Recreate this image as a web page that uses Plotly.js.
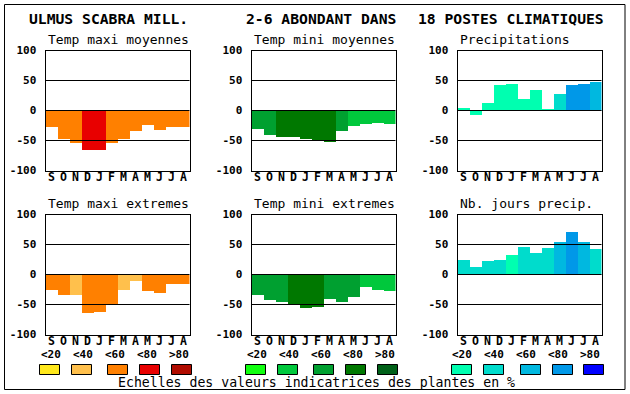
<!DOCTYPE html>
<html>
<head>
<meta charset="utf-8">
<script src="https://cdn.plot.ly/plotly-3.0.1.min.js"></script>
<style>
html,body{margin:0;padding:0;background:#fff;}
#chart{width:630px;height:394px;}
</style>
</head>
<body>
<div id="chart"></div>
<script>
// ---- data ----
const months = ['S','O','N','D','J','F','M','A','M','J','J','A'];
const yTickVals = [-100, -50, 0, 50, 100];
const yTickText = ['-100', '-50', '0', '50', '100'];
const gridVals = [-50, 0, 50];
const classLabels = ['<20', '<40', '<60', '<80', '>80'];

const orangeScale = ['#FFE81C', '#FFC04C', '#FF8000', '#E80000', '#B00C00'];
const greenScale  = ['#10FF10', '#00C83C', '#00A030', '#007800', '#006018'];
const blueScale   = ['#00FFB0', '#00DCCC', '#00B8E0', '#0098E8', '#0000FF'];

const tmaxMoyTitle = 'Temp maxi moyennes';
const tmaxMoy      = [-28, -48, -54, -66, -66, -54, -48, -34, -24, -32, -28, -28];
const tmaxMoyClass = [2, 2, 2, 3, 3, 2, 2, 2, 2, 2, 2, 2];

const tminMoyTitle = 'Temp mini moyennes';
const tminMoy      = [-31, -41, -44, -44, -48, -50, -52, -34, -26, -23, -21, -23];
const tminMoyClass = [2, 2, 3, 3, 3, 3, 3, 2, 1, 1, 1, 1];

const precipTitle = 'Precipitations';
const precip      = [5, -8, 12, 43, 45, 20, 35, 3, 27, 42, 45, 48];
const precipClass = [0, 0, 0, 0, 0, 0, 0, 0, 1, 3, 3, 2];

const tmaxExtTitle = 'Temp maxi extremes';
const tmaxExt      = [-26, -34, -34, -64, -62, -49, -26, -11, -27, -31, -16, -16];
const tmaxExtClass = [2, 2, 1, 2, 2, 2, 1, 1, 2, 2, 2, 2];

const tminExtTitle = 'Temp mini extremes';
const tminExt      = [-34, -42, -46, -49, -56, -54, -41, -46, -37, -21, -26, -27];
const tminExtClass = [2, 2, 2, 3, 3, 3, 2, 2, 2, 1, 1, 1];

const nbJoursTitle = 'Nb. jours precip.';
const nbJours      = [24, 12, 22, 24, 32, 46, 36, 44, 54, 71, 54, 42];
const nbJoursClass = [1, 1, 1, 1, 0, 1, 1, 1, 2, 3, 2, 1];

const mainTitleParts = ['ULMUS SCABRA MILL.', '2-6 ABONDANT DANS', '18 POSTES CLIMATIQUES'];
const footerText = 'Echelles des valeurs indicatrices des plantes en %';

// ---- layout helpers ----
const W = 630, H = 394;
const px = v => v / W;
const py = v => 1 - v / H;
const MONO = 'DejaVu Sans Mono';

const panels = [
  {title: tmaxMoyTitle, vals: tmaxMoy, cls: tmaxMoyClass, scale: orangeScale, col: 0, row: 0},
  {title: tminMoyTitle, vals: tminMoy, cls: tminMoyClass, scale: greenScale,  col: 1, row: 0},
  {title: precipTitle,  vals: precip,  cls: precipClass,  scale: blueScale,   col: 2, row: 0},
  {title: tmaxExtTitle, vals: tmaxExt, cls: tmaxExtClass, scale: orangeScale, col: 0, row: 1},
  {title: tminExtTitle, vals: tminExt, cls: tminExtClass, scale: greenScale,  col: 1, row: 1},
  {title: nbJoursTitle, vals: nbJours, cls: nbJoursClass, scale: blueScale,   col: 2, row: 1}
];
const colLeft = [45.5, 251.5, 457.5];
const plotW = 144;
const rowTop = [50.5, 214.5];
const plotH = 120;

const traces = [];
const layout = {
  width: W, height: H,
  margin: {l: 0, r: 0, t: 0, b: 0, pad: 0},
  paper_bgcolor: '#ffffff', plot_bgcolor: '#ffffff',
  showlegend: false,
  bargap: 0,
  font: {family: MONO, color: '#000000'},
  shapes: [], annotations: []
};

panels.forEach((p, i) => {
  const n = i === 0 ? '' : String(i + 1);
  const xa = 'xaxis' + n, ya = 'yaxis' + n;
  const xr = 'x' + n, yr = 'y' + n;
  const x0 = colLeft[p.col], y0 = rowTop[p.row];
  traces.push({
    type: 'bar', xaxis: xr, yaxis: yr,
    x: months.map((m, k) => k), y: p.vals, width: 1,
    marker: {color: p.cls.map(c => p.scale[c]), line: {width: 0}},
    hoverinfo: 'skip'
  });
  layout[xa] = {
    domain: [px(x0), px(x0 + plotW)], anchor: yr,
    range: [-0.5, 11.5], tickmode: 'array',
    tickvals: months.map((m, k) => k), ticktext: months,
    tickfont: {family: MONO, size: 11.5, weight: 'bold', color: '#000'},
    ticks: '', ticklabelstandoff: -4, showgrid: false, zeroline: false,
    showline: true, mirror: true, linecolor: '#000', linewidth: 1,
    fixedrange: true
  };
  layout[ya] = {
    domain: [py(y0 + plotH), py(y0)], anchor: xr,
    range: [-100, 100], tickmode: 'array',
    tickvals: yTickVals, ticktext: yTickText,
    tickfont: {family: MONO, size: 11, weight: 'bold', color: '#000'},
    ticks: '', ticklabelstandoff: 6, showgrid: false, zeroline: false,
    showline: true, mirror: true, linecolor: '#000', linewidth: 1,
    fixedrange: true
  };
  gridVals.forEach(g => {
    layout.shapes.push({
      type: 'line', xref: xr + ' domain', yref: yr, layer: 'above',
      x0: 0, x1: 1, y0: g, y1: g, line: {color: '#000', width: 1}
    });
  });
  layout.annotations.push({
    text: p.title, xref: 'paper', yref: 'paper', showarrow: false,
    x: px(x0), y: py(y0 - 11), xanchor: 'left', yanchor: 'middle',
    font: {family: MONO, size: 13, color: '#000'}
  });
});

// outer frame
layout.shapes.push({
  type: 'rect', xref: 'paper', yref: 'paper', layer: 'above',
  x0: px(4.5), x1: px(625), y0: py(4.5), y1: py(389.5),
  line: {color: '#000', width: 1}, fillcolor: 'rgba(0,0,0,0)'
});

// main title
const titleX = [27, 244, 416];
mainTitleParts.forEach((t, i) => {
  layout.annotations.push({
    text: t, xref: 'paper', yref: 'paper', showarrow: false,
    x: px(titleX[i]), y: py(19), xanchor: 'left', yanchor: 'middle',
    font: {family: MONO, size: 14.7, weight: 'bold', color: '#000'}
  });
});

// colour scale legends
const labelX = [[39, 71, 103, 135, 167], [245, 277, 309, 341, 373], [450, 482, 514, 546, 578]];
const swatchX = [[39.5, 71.5, 107.5, 139.5, 171.5], [245.5, 277.5, 313.5, 345.5, 377.5], [451.5, 483.5, 520.5, 552.5, 583.5]];
const scales = [orangeScale, greenScale, blueScale];
scales.forEach((sc, g) => {
  sc.forEach((c, k) => {
    layout.shapes.push({
      type: 'rect', xref: 'paper', yref: 'paper', layer: 'above',
      x0: px(swatchX[g][k]), x1: px(swatchX[g][k] + 20),
      y0: py(364.5), y1: py(374.5),
      fillcolor: c, line: {color: '#000', width: 1}
    });
    layout.annotations.push({
      text: classLabels[k], xref: 'paper', yref: 'paper', showarrow: false,
      x: px(labelX[g][k]), y: py(354), xanchor: 'left', yanchor: 'middle',
      font: {family: MONO, size: 11, weight: 'bold', color: '#000'}
    });
  });
});

layout.annotations.push({
  text: footerText, xref: 'paper', yref: 'paper', showarrow: false,
  x: px(115.5), y: py(382), xanchor: 'left', yanchor: 'middle',
  font: {family: MONO, size: 13.2, color: '#000'}
});

Plotly.newPlot('chart', traces, layout, {staticPlot: true, displayModeBar: false});
</script>
</body>
</html>
